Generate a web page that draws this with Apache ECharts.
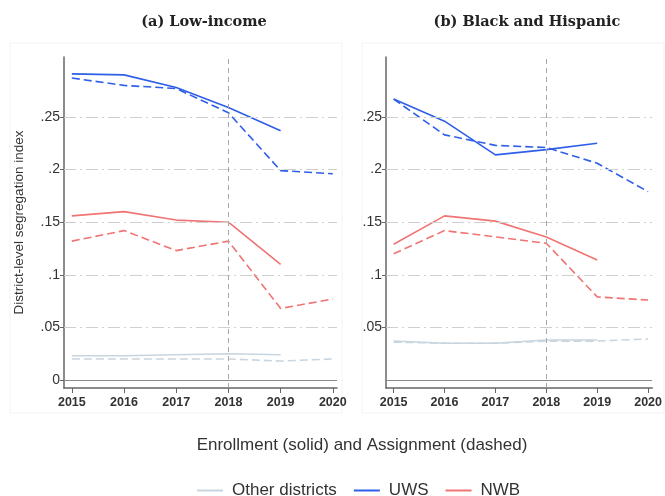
<!DOCTYPE html>
<html>
<head>
<meta charset="utf-8">
<script src="https://cdn.jsdelivr.net/npm/echarts@6/dist/echarts.min.js"></script>
<style>
  html, body { margin: 0; padding: 0; background: #fff; }
  #chart { width: 665px; height: 496px; }
</style>
</head>
<body>
<div id="chart"></div>
<script>
// years on the x axis
var years = [2015, 2016, 2017, 2018, 2019, 2020];
var yTicks = [0, 0.05, 0.1, 0.15, 0.2, 0.25];
var gridVals = [0.05, 0.1, 0.15, 0.2, 0.25];
var cutoffYear = 2018;

// (a) Low-income
var lowUwsEnroll = [0.291, 0.290, 0.278, 0.259, 0.237];
var lowUwsAssign = [0.287, 0.280, 0.277, 0.254, 0.199, 0.196];
var lowNwbEnroll = [0.156, 0.160, 0.152, 0.150, 0.110];
var lowNwbAssign = [0.132, 0.142, 0.123, 0.132, 0.068, 0.077];
var lowOtherEnroll = [0.023, 0.023, 0.024, 0.025, 0.024];
var lowOtherAssign = [0.020, 0.020, 0.020, 0.020, 0.018, 0.020];

// (b) Black and Hispanic
var bhUwsEnroll = [0.267, 0.246, 0.214, 0.219, 0.225];
var bhUwsAssign = [0.267, 0.233, 0.223, 0.221, 0.206, 0.179];
var bhNwbEnroll = [0.129, 0.156, 0.151, 0.136, 0.114];
var bhNwbAssign = [0.120, 0.142, 0.136, 0.130, 0.079, 0.076];
var bhOtherEnroll = [0.037, 0.035, 0.035, 0.038, 0.038];
var bhOtherAssign = [0.036, 0.035, 0.035, 0.037, 0.037, 0.039];

var colors = { other: '#c9d5de', uws: '#2f5fe8', nwb: '#f07474' };
var sans = 'Liberation Sans, Arial';

function pairs(vals) {
  return vals.map(function (v, i) { return [years[i], v]; });
}

function fmtY(v) {
  if (v === 0) return '0';
  return String(+v.toFixed(2)).replace(/^0/, '');
}

function lineSeries(name, vals, color, dashed, idx) {
  return {
    name: name,
    type: 'line',
    xAxisIndex: idx,
    yAxisIndex: idx,
    data: pairs(vals),
    symbol: 'none',
    z: 4,
    lineStyle: { color: color, width: 1.6, type: dashed ? [8, 4] : 'solid' },
    itemStyle: { color: color }
  };
}

function guideSeries(idx) {
  var lines = gridVals.map(function (v) {
    return { yAxis: v, lineStyle: { color: '#cfcfcf', width: 1, type: [12, 4, 2, 4] } };
  });
  lines.push({ yAxis: 0, lineStyle: { color: '#8a8a8a', width: 1, type: 'solid' } });
  lines.push({ xAxis: cutoffYear, lineStyle: { color: '#a8a8a8', width: 1, type: [5, 4] } });
  return {
    type: 'line',
    xAxisIndex: idx,
    yAxisIndex: idx,
    data: [],
    z: 1,
    markLine: { silent: true, symbol: 'none', label: { show: false }, data: lines }
  };
}

function xAxisFor(idx) {
  return {
    type: 'value',
    gridIndex: idx,
    min: 2014.85,
    max: 2020.08,
    axisLine: { show: true, onZero: false, lineStyle: { color: '#666', width: 1.5 } },
    axisTick: { show: true, length: 5, customValues: years, lineStyle: { color: '#666' } },
    axisLabel: {
      customValues: years, formatter: function (v) { return String(v); },
      color: '#333', fontSize: 12.5, fontWeight: 'bold', fontFamily: sans, margin: 8
    },
    splitLine: { show: false }
  };
}

function yAxisFor(idx) {
  return {
    type: 'value',
    gridIndex: idx,
    min: -0.0076,
    max: 0.307,
    name: idx === 0 ? 'District-level segregation index' : '',
    nameLocation: 'middle',
    nameGap: 38,
    nameTextStyle: { color: '#333', fontSize: 13.5, fontFamily: sans },
    axisLine: { show: true, onZero: false, lineStyle: { color: '#666', width: 1.5 } },
    axisTick: { show: true, length: 4, customValues: idx === 0 ? yTicks : gridVals, lineStyle: { color: '#666' } },
    axisLabel: {
      customValues: idx === 0 ? yTicks : gridVals, formatter: fmtY,
      color: '#333', fontSize: 14, fontFamily: sans, margin: 4
    },
    splitLine: { show: false }
  };
}

var chart = echarts.init(document.getElementById('chart'));
chart.setOption({
  backgroundColor: '#fff',
  animation: false,
  title: [
    { text: '(a) Low-income', left: 199, top: 10, textAlign: 'center',
      textStyle: { fontFamily: 'DejaVu Serif', fontWeight: 'bold', fontSize: 14.5, color: '#222' } },
    { text: '(b) Black and Hispanic', left: 522, top: 10, textAlign: 'center',
      textStyle: { fontFamily: 'DejaVu Serif', fontWeight: 'bold', fontSize: 14.5, color: '#222' } },
    { text: 'Enrollment (solid) and Assignment (dashed)', left: 357, top: 432, textAlign: 'center',
      textStyle: { fontFamily: sans, fontWeight: 'normal', fontSize: 17, color: '#333' } }
  ],
  graphic: [
    { type: 'rect', shape: { x: 10, y: 43, width: 332, height: 370 }, style: { fill: 'none', stroke: '#f3f3f3' }, silent: true },
    { type: 'rect', shape: { x: 362, y: 43, width: 302, height: 370 }, style: { fill: 'none', stroke: '#f3f3f3' }, silent: true }
  ],
  legend: {
    data: ['Other districts', 'UWS', 'NWB'],
    left: 192,
    top: 477,
    icon: 'rect',
    itemWidth: 26,
    itemHeight: 2,
    itemGap: 17,
    textStyle: { color: '#333', fontSize: 17, fontFamily: sans, padding: [0, 0, 0, 4] }
  },
  grid: [
    { left: 64, top: 57, width: 273, height: 331 },
    { left: 386, top: 57, width: 273, height: 331 }
  ],
  xAxis: [xAxisFor(0), xAxisFor(1)],
  yAxis: [yAxisFor(0), yAxisFor(1)],
  series: [
    guideSeries(0),
    guideSeries(1),
    lineSeries('Other districts', lowOtherEnroll, colors.other, false, 0),
    lineSeries('Other districts', lowOtherAssign, colors.other, true, 0),
    lineSeries('UWS', lowUwsEnroll, colors.uws, false, 0),
    lineSeries('UWS', lowUwsAssign, colors.uws, true, 0),
    lineSeries('NWB', lowNwbEnroll, colors.nwb, false, 0),
    lineSeries('NWB', lowNwbAssign, colors.nwb, true, 0),
    lineSeries('Other districts', bhOtherEnroll, colors.other, false, 1),
    lineSeries('Other districts', bhOtherAssign, colors.other, true, 1),
    lineSeries('UWS', bhUwsEnroll, colors.uws, false, 1),
    lineSeries('UWS', bhUwsAssign, colors.uws, true, 1),
    lineSeries('NWB', bhNwbEnroll, colors.nwb, false, 1),
    lineSeries('NWB', bhNwbAssign, colors.nwb, true, 1)
  ]
});
</script>
</body>
</html>
